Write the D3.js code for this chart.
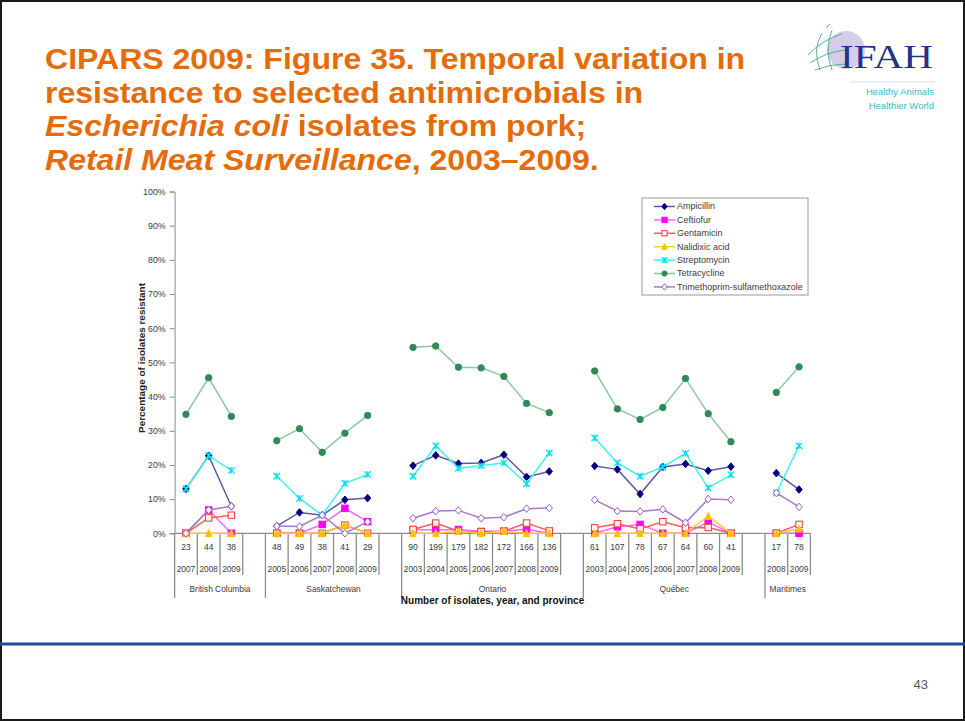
<!DOCTYPE html>
<html><head><meta charset="utf-8">
<script src="https://cdn.jsdelivr.net/npm/d3@7"></script>
<style>
html,body{margin:0;padding:0;background:#fff;}
svg{display:block;font-family:"Liberation Sans",Arial,sans-serif;}
</style></head>
<body>
<svg id="chart" width="965" height="721"></svg>
<script>
// ---------- data ----------
const isolateCounts = ["23","44","38","", "48","49","38","41","29","", "90","199","179","182","172","166","136","", "61","107","78","67","64","60","41","", "17","78"];
const years = ["2007","2008","2009","", "2005","2006","2007","2008","2009","", "2003","2004","2005","2006","2007","2008","2009","", "2003","2004","2005","2006","2007","2008","2009","", "2008","2009"];
const slotProvince = ["British Columbia","British Columbia","British Columbia","British Columbia",
  "Saskatchewan","Saskatchewan","Saskatchewan","Saskatchewan","Saskatchewan","Saskatchewan",
  "Ontario","Ontario","Ontario","Ontario","Ontario","Ontario","Ontario","Ontario",
  "Québec","Québec","Québec","Québec","Québec","Québec","Québec","Québec",
  "Maritimes","Maritimes"];
const yTicks = [0,10,20,30,40,50,60,70,80,90,100];

const ampicillin   = [13.0,22.7,7.9,null, 2.1,6.1,5.3,9.8,10.3,null, 19.8,22.8,20.4,20.6,23.0,16.5,18.1,null, 19.7,18.7,11.5,19.4,20.3,18.3,19.5,null, 17.6,12.8];
const ceftiofur    = [0,6.8,0,null, 0,0,2.6,7.3,3.4,null, 1.1,1.0,1.1,0.5,0.6,1.2,0,null, 0,1.9,2.6,0,0,3.3,0,null, 0,0];
const gentamicin   = [0,4.5,5.3,null, 0,0,0,2.4,0,null, 1.1,3.0,0.6,0.5,0.6,3.0,0.7,null, 1.6,2.8,1.3,3.4,1.6,1.7,0,null, 0,2.6];
const nalidixic    = [0,0,0,null, 0,0,0,2.4,0,null, 0,0,0.6,0,0.6,0,0,null, 0,0,0,0,0,5.0,0,null, 0,1.3];
const streptomycin = [13.0,22.7,18.4,null, 16.7,10.2,5.3,14.6,17.2,null, 16.7,25.6,19.0,19.8,20.6,14.5,23.5,null, 27.9,20.6,16.7,19.4,23.4,13.3,17.1,null, 11.8,25.6];
const tetracycline = [34.8,45.5,34.2,null, 27.1,30.6,23.7,29.3,34.5,null, 54.4,54.8,48.6,48.4,45.9,38.0,35.3,null, 47.5,36.4,33.3,36.8,45.3,35.0,26.8,null, 41.2,48.7];
const tmpSmx       = [0,6.8,7.9,null, 2.1,2.0,5.3,0,3.4,null, 4.4,6.5,6.7,4.4,4.7,7.2,7.4,null, 9.8,6.5,6.4,7.0,3.1,10.0,9.8,null, 11.8,7.7];

const seriesNames = ["Ampicillin","Ceftiofur","Gentamicin","Nalidixic acid","Streptomycin","Tetracycline","Trimethoprim-sulfamethoxazole"];
const seriesValues = [ampicillin, ceftiofur, gentamicin, nalidixic, streptomycin, tetracycline, tmpSmx];

// ---------- styles ----------
const styles = [
  {line:"#5a5a9e", fill:"#000080", stroke:"#000080", shape:"diamond"},
  {line:"#ff66ff", fill:"#ff00ff", stroke:"#ff00ff", shape:"square"},
  {line:"#ff5a5a", fill:"#ffffff", stroke:"#ff4040", shape:"osquare"},
  {line:"#ffc830", fill:"#ffc000", stroke:"#ffc000", shape:"triangle"},
  {line:"#40f0f0", fill:"#00e8f0", stroke:"#00e0f0", shape:"star"},
  {line:"#8cc8a0", fill:"#2e8b57", stroke:"#2e8b57", shape:"circle"},
  {line:"#a878c8", fill:"#ffffff", stroke:"#9a60c0", shape:"odiamond"}
];

const svg = d3.select("#chart");
svg.append("rect").attr("x",1).attr("y",1).attr("width",963).attr("height",719)
  .attr("fill","#fff").attr("stroke","#1a1a1a").attr("stroke-width",2);

// ---------- title ----------
const title = svg.append("g").attr("transform","translate(45,0) scale(1.105,1)")
  .attr("fill","#e46c0a").attr("font-weight","bold").attr("font-size",29);
title.append("text").attr("x",0).attr("y",69).text("CIPARS 2009: Figure 35. Temporal variation in");
title.append("text").attr("x",0).attr("y",103).text("resistance to selected antimicrobials in");
const t3 = title.append("text").attr("x",0).attr("y",136);
t3.append("tspan").attr("font-style","italic").text("Escherichia coli");
t3.append("tspan").text(" isolates from pork;");
const t4 = title.append("text").attr("x",0).attr("y",170);
t4.append("tspan").attr("font-style","italic").text("Retail Meat Surveillance");
t4.append("tspan").text(", 2003\u20132009.");

// ---------- logo ----------
const logo = svg.append("g");
logo.append("circle").attr("cx",846).attr("cy",50).attr("r",19).attr("fill","#d4cdea");
const gl = logo.append("g").attr("fill","none").attr("stroke","#4aa88a").attr("stroke-width",0.9);
gl.append("path").attr("d","M808,55 Q822,40 842,34");
gl.append("path").attr("d","M810,63 Q826,52 846,50");
gl.append("path").attr("d","M815,70 Q830,64 846,64");
gl.append("path").attr("d","M822,33 Q812,50 820,70");
gl.append("path").attr("d","M832,30 Q824,50 832,70");
gl.append("path").attr("d","M826,28 L830,24");
logo.append("text").attr("x",840).attr("y",68).attr("font-family","Liberation Serif, Times New Roman, serif")
  .attr("font-size",33).attr("fill","#23318a").attr("textLength",93).attr("lengthAdjust","spacingAndGlyphs").text("IFAH");
logo.append("line").attr("x1",850).attr("x2",935).attr("y1",82).attr("y2",82).attr("stroke","#d0dcea").attr("stroke-width",1);
logo.append("text").attr("x",934).attr("y",95).attr("text-anchor","end").attr("font-size",9.5).attr("fill","#40b4c8").text("Healthy Animals");
logo.append("text").attr("x",934).attr("y",109).attr("text-anchor","end").attr("font-size",9.5).attr("fill","#40b4c8").text("Healthier World");

// ---------- bottom ----------
svg.append("line").attr("x1",0).attr("x2",965).attr("y1",644).attr("y2",644).attr("stroke","#1f4a98").attr("stroke-width",3);
svg.append("text").attr("x",928).attr("y",689).attr("text-anchor","end").attr("font-size",13).attr("fill","#555").text("43");

// ---------- chart ----------
const pLeft = 174.6, pRight = 810.4, pTop = 191.5, pBottom = 533.3;
const slotIdx = d3.range(isolateCounts.length);
const x = d3.scaleBand().domain(slotIdx).range([pLeft,pRight]).padding(0);
const y = d3.scaleLinear().domain([0,100]).range([pBottom,pTop]);
const cx = i => x(i) + x.bandwidth()/2;
const axisCol = "#8c8c8c";
const txtCol = "#3a3a3a";

// y axis
const yAxis = d3.axisLeft(y).tickValues(yTicks).tickSize(5).tickFormat(d => d + "%");
const yg = svg.append("g").attr("transform",`translate(${pLeft},0)`).call(yAxis);
yg.select(".domain").attr("stroke",axisCol);
yg.selectAll(".tick line").attr("stroke",axisCol);
yg.selectAll(".tick text").attr("font-size",8.8).attr("fill",txtCol).attr("x",-9)
  .attr("font-family","Liberation Sans, Arial, sans-serif");

svg.append("text").attr("transform","translate(145,358) rotate(-90)").attr("text-anchor","middle")
  .attr("font-size",9.5).attr("font-weight","bold").attr("fill","#222")
  .attr("textLength",150).attr("lengthAdjust","spacingAndGlyphs").text("Percentage of isolates resistant");

// x axis
svg.append("line").attr("x1",pLeft).attr("x2",pRight).attr("y1",pBottom).attr("y2",pBottom).attr("stroke",axisCol).attr("stroke-width",1.3);
const boundaries = d3.range(isolateCounts.length + 1);
const isGroupStart = i => i === 0 || i === isolateCounts.length || slotProvince[i] !== slotProvince[i-1];
svg.append("g").selectAll("line").data(boundaries).join("line")
  .attr("x1", i => i < isolateCounts.length ? x(i) : pRight)
  .attr("x2", i => i < isolateCounts.length ? x(i) : pRight)
  .attr("y1", pBottom)
  .attr("y2", i => isGroupStart(i) && i < isolateCounts.length ? 598 : 575)
  .attr("stroke",axisCol).attr("stroke-width",1.3);

svg.append("g").selectAll("text").data(slotIdx.filter(i => isolateCounts[i] !== "")).join("text")
  .attr("x", cx).attr("y",550).attr("text-anchor","middle").attr("font-size",8.5).attr("fill",txtCol)
  .text(i => isolateCounts[i]);
svg.append("g").selectAll("text").data(slotIdx.filter(i => years[i] !== "")).join("text")
  .attr("x", cx).attr("y",571.5).attr("text-anchor","middle").attr("font-size",8.3).attr("fill",txtCol)
  .text(i => years[i]);
const groups = d3.groups(slotIdx, i => slotProvince[i]);
svg.append("g").selectAll("text").data(groups).join("text")
  .attr("x", g => (x(g[1][0]) + x(g[1][g[1].length-1]) + x.bandwidth())/2)
  .attr("y",592).attr("text-anchor","middle").attr("font-size",8.4).attr("fill",txtCol)
  .text(g => g[0]);
svg.append("text").attr("x",(pLeft+pRight)/2).attr("y",603.5).attr("text-anchor","middle")
  .attr("font-size",10).attr("font-weight","bold").attr("fill","#111").text("Number of isolates, year, and province");

// marker drawer
function marker(sel, st, s){
  s = s || 3.2;
  if(st.shape === "diamond" || st.shape === "odiamond"){
    sel.append("path").attr("d",`M0,${-s-0.6}L${s},0L0,${s+0.6}L${-s},0Z`)
      .attr("fill",st.fill).attr("stroke",st.stroke).attr("stroke-width",1);
  } else if(st.shape === "square" || st.shape === "osquare"){
    sel.append("rect").attr("x",-s).attr("y",-s).attr("width",2*s).attr("height",2*s)
      .attr("fill",st.fill).attr("stroke",st.stroke).attr("stroke-width",1.1);
  } else if(st.shape === "triangle"){
    sel.append("path").attr("d",`M0,${-s-0.5}L${s},${s}L${-s},${s}Z`).attr("fill",st.fill).attr("stroke",st.stroke);
  } else if(st.shape === "star"){
    sel.append("path").attr("d",`M${-s},${-s}L${s},${s}M${-s},${s}L${s},${-s}M0,${-s}L0,${s}`)
      .attr("stroke",st.stroke).attr("stroke-width",1.3).attr("fill","none");
  } else if(st.shape === "circle"){
    sel.append("circle").attr("r",s).attr("fill",st.fill).attr("stroke",st.stroke);
  }
}

const line = d3.line().defined(d => d.v != null).x(d => cx(d.i)).y(d => y(d.v));
const plot = svg.append("g");
seriesValues.forEach((vals, k) => {
  const st = styles[k];
  const pts = vals.map((v,i) => ({v,i}));
  plot.append("path").datum(pts).attr("d",line).attr("fill","none")
    .attr("stroke",st.line).attr("stroke-width",1.5);
  plot.append("g").selectAll("g").data(pts.filter(p => p.v != null)).join("g")
    .attr("transform", p => `translate(${cx(p.i)},${y(p.v)})`)
    .each(function(){ marker(d3.select(this), st); });
});

// legend
const lg = svg.append("g");
lg.append("rect").attr("x",642).attr("y",198).attr("width",166).attr("height",97)
  .attr("fill","#fff").attr("stroke","#9a9a9a").attr("stroke-width",1);
seriesNames.forEach((name,k) => {
  const st = styles[k];
  const ly = 206.5 + k*13.4;
  lg.append("line").attr("x1",654).attr("x2",675).attr("y1",ly).attr("y2",ly).attr("stroke",st.line).attr("stroke-width",1.5);
  const m = lg.append("g").attr("transform",`translate(664.5,${ly})`);
  marker(m, st, 2.6);
  lg.append("text").attr("transform",`translate(677,${ly+2.8}) scale(1.1,1)`)
    .attr("font-size",8.2).attr("fill",txtCol).text(name);
});
</script>
</body></html>
